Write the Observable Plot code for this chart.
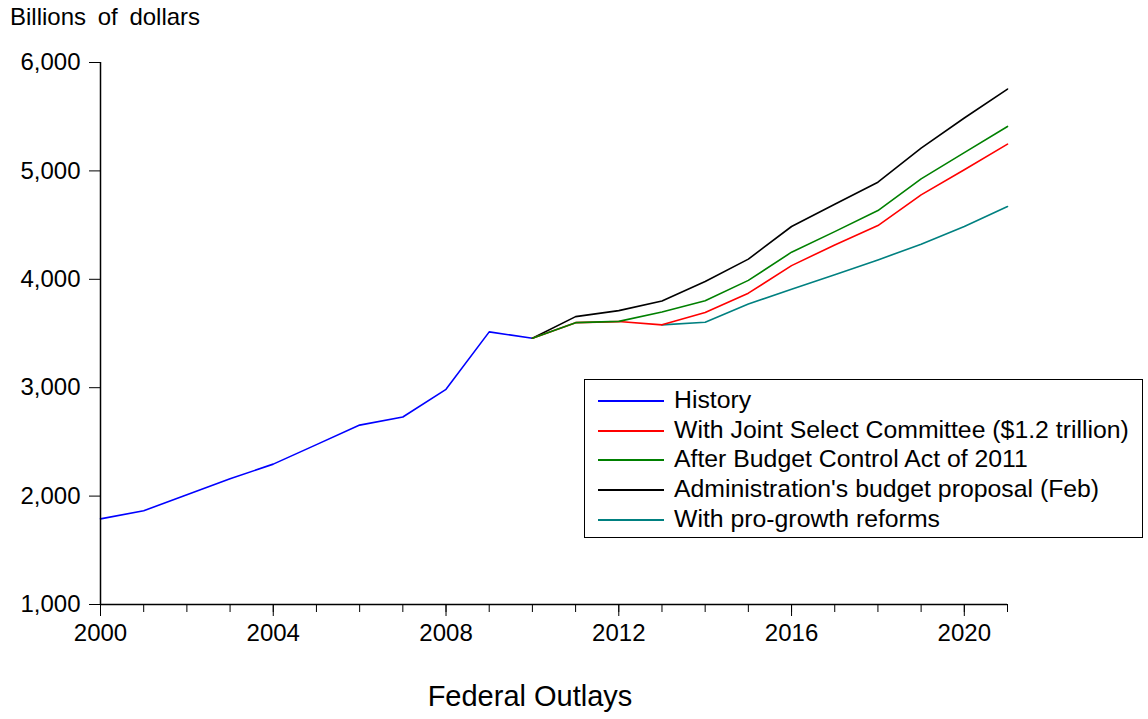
<!DOCTYPE html>
<html>
<head>
<meta charset="utf-8">
<script src="https://cdn.jsdelivr.net/npm/d3@7"></script>
<script src="https://cdn.jsdelivr.net/npm/@observablehq/plot@0.6"></script>
<style>
  html, body { margin: 0; padding: 0; background: #fff; }
  #wrap { position: relative; width: 1148px; height: 719px; font-family: "Liberation Sans", Arial, sans-serif; color: #000; }
  #ylabel { position: absolute; left: 10px; top: 3px; font-size: 24px; word-spacing: 5px; }
  #caption { position: absolute; left: 0; width: 1060px; text-align: center; top: 680px; font-size: 29px; }
  #legend { position: absolute; left: 584px; top: 379px; width: 557px; height: 157px; border: 1px solid #000; background: #fff; }
  .li { position: absolute; left: 0; height: 30px; width: 557px; }
  .li .sw { position: absolute; left: 13px; width: 66px; height: 0; border-top: 2px solid; top: 14px; }
  .li .tx { position: absolute; left: 89px; top: 0; font-size: 24.8px; line-height: 28px; white-space: nowrap; }
</style>
</head>
<body>
<div id="wrap">
  <div id="chart"></div>
  <div id="ylabel">Billions of dollars</div>
  <div id="caption">Federal Outlays</div>
  <div id="legend"></div>
</div>
<script>
// Series names and colours
const seriesNames = [
  "History",
  "With Joint Select Committee ($1.2 trillion)",
  "After Budget Control Act of 2011",
  "Administration's budget proposal (Feb)",
  "With pro-growth reforms"
];
const seriesColors = ["#0000ff", "#ff0000", "#008000", "#000000", "#008080"];

// Years and values (billions of dollars)
const historyYears = [2000, 2001, 2002, 2003, 2004, 2005, 2006, 2007, 2008, 2009, 2010];
const historyValues = [1790, 1865, 2012, 2160, 2295, 2475, 2655, 2730, 2985, 3515, 3456];

const projYears = [2010, 2011, 2012, 2013, 2014, 2015, 2016, 2017, 2018, 2019, 2020, 2021];
const jointValues = [3456, 3600, 3610, 3580, 3693, 3872, 4126, 4317, 4496, 4779, 5010, 5247];
const bcaValues   = [3456, 3600, 3612, 3699, 3803, 3990, 4250, 4440, 4634, 4927, 5168, 5410];
const adminValues = [3456, 3656, 3711, 3800, 3979, 4186, 4487, 4693, 4896, 5210, 5488, 5755];

const growthYears = [2013, 2014, 2015, 2016, 2017, 2018, 2019, 2020, 2021];
const growthValues = [3580, 3604, 3772, 3909, 4041, 4179, 4323, 4487, 4671];

const yTicks = [1000, 2000, 3000, 4000, 5000, 6000];
const xMajorTicks = [2000, 2004, 2008, 2012, 2016, 2020];
const xMinorTicks = d3.range(2000, 2022);

// Build a tidy table
const rows = [];
function add(name, years, values) {
  years.forEach((y, i) => rows.push({series: name, year: y, value: values[i]}));
}
add(seriesNames[0], historyYears, historyValues);
add(seriesNames[1], projYears, jointValues);
add(seriesNames[2], projYears, bcaValues);
add(seriesNames[3], projYears, adminValues);
add(seriesNames[4], growthYears, growthValues);

const drawOrder = [seriesNames[0], seriesNames[3], seriesNames[4], seriesNames[1], seriesNames[2]];
const ordered = drawOrder.flatMap(n => rows.filter(r => r.series === n));

const chart = Plot.plot({
  width: 1148,
  height: 719,
  marginLeft: 100,
  marginRight: 141,
  marginTop: 62,
  marginBottom: 115,
  style: {fontFamily: "'Liberation Sans', Arial, sans-serif", fontSize: "24px", background: "#fff", color: "#000"},
  x: {domain: [2000, 2021]},
  y: {domain: [1000, 6000]},
  color: {domain: seriesNames, range: seriesColors},
  marks: [
    Plot.axisY(yTicks, {tickSize: 11, tickPadding: 9, tickFormat: d3.format(","), label: null, stroke: "#000", fill: "#000"}),
    Plot.axisX(xMinorTicks, {tickSize: 8, tickFormat: () => "", label: null, stroke: "#000"}),
    Plot.axisX(xMajorTicks, {tickSize: 12, tickPadding: 7, tickFormat: d => String(d), label: null, stroke: "#000", fill: "#000"}),
    Plot.line(ordered, {x: "year", y: "value", z: "series", stroke: "series", strokeWidth: 1.6}),
    Plot.ruleY([1000], {stroke: "#000", strokeWidth: 1.5}),
    Plot.ruleX([2000], {y1: 1000, y2: 6000, stroke: "#000", strokeWidth: 1.5})
  ]
});
document.getElementById("chart").appendChild(chart);

// Legend
const leg = document.getElementById("legend");
seriesNames.forEach((name, i) => {
  const item = document.createElement("div");
  item.className = "li";
  item.style.top = (6 + i * 29.7) + "px";
  const sw = document.createElement("div");
  sw.className = "sw";
  sw.style.borderTopColor = seriesColors[i];
  const tx = document.createElement("div");
  tx.className = "tx";
  tx.textContent = name;
  item.appendChild(sw);
  item.appendChild(tx);
  leg.appendChild(item);
});
</script>
</body>
</html>
